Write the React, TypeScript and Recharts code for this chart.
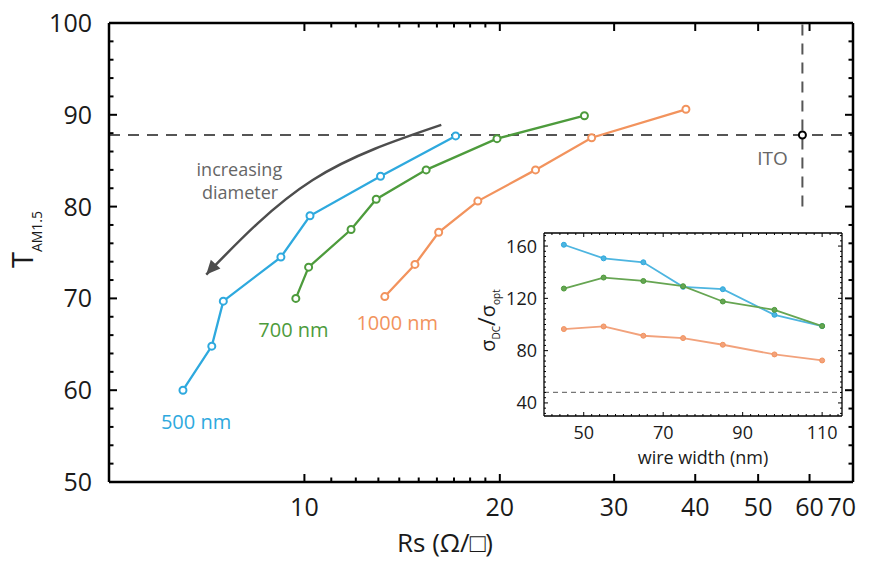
import React from "react";
import {
  LineChart,
  Line,
  XAxis,
  YAxis,
  ReferenceLine,
  ReferenceDot,
} from "recharts";

// main plot: sheet resistance (log axis) vs transmittance
const RS_500 = [6.5, 7.2, 7.5, 9.2, 10.2, 13.1, 17.1];
const T_500 = [60.0, 64.8, 69.7, 74.5, 79.0, 83.3, 87.7];
const RS_700 = [9.7, 10.15, 11.8, 12.9, 15.4, 19.8, 27.0];
const T_700 = [70.0, 73.4, 77.5, 80.8, 84.0, 87.4, 89.9];
const RS_1000 = [13.3, 14.8, 16.1, 18.5, 22.7, 27.7, 38.7];
const T_1000 = [70.2, 73.7, 77.2, 80.6, 84.0, 87.5, 90.6];

const ITO_RS = 58.5;
const ITO_T = 87.8;

const SERIES_NAMES = ["500 nm", "700 nm", "1000 nm"];
const LABEL_RS = [6.81, 9.62, 13.9];
const LABEL_T = [56.6, 66.6, 67.3];

// the "increasing diameter" arrow, in data units
const ARROW_RS = [16.25, 10.3, 7.06];
const ARROW_T = [88.9, 82.9, 72.6];

const X_MAJOR = [10, 20, 30, 40, 50, 60, 70];
const X_MINOR = [11, 12, 13, 14, 15, 16, 17, 18, 19];
const Y_MAJOR = [50, 60, 70, 80, 90, 100];
const Y_MINOR = [52, 54, 56, 58, 62, 64, 66, 68, 72, 74, 76, 78, 82, 84, 86, 88, 92, 94, 96, 98];

// inset: sigma_DC / sigma_opt vs wire width
const WIRE_WIDTH = [45, 55, 65, 75, 85, 98, 110];
const RATIO_500 = [161, 150.6, 147.6, 128.8, 127.0, 107.4, 98.8];
const RATIO_700 = [127.5, 135.9, 133.3, 129.3, 117.6, 111.2, 98.8];
const RATIO_1000 = [96.5, 98.5, 91.4, 89.6, 84.5, 77.1, 72.5];
const RATIO_ITO = 48;

const IX_MAJOR = [50, 70, 90, 110];
const IX_MINOR = [42, 44, 46, 48, 52, 54, 56, 58, 60, 62, 64, 66, 68, 72, 74, 76, 78, 80, 82, 84, 86, 88, 92, 94, 96, 98, 100, 102, 104, 106, 108, 112, 114];
const IY_MAJOR = [40, 80, 120, 160];
const IY_MINOR = [32, 36, 44, 48, 52, 56, 60, 64, 68, 72, 76, 84, 88, 92, 96, 100, 104, 108, 112, 116, 124, 128, 132, 136, 140, 144, 148, 152, 156, 164, 168];

const BLUE = "#2ea9de";
const GREEN = "#4d9b3c";
const ORANGE = "#f2935d";
const COLORS = [BLUE, GREEN, ORANGE];
const INSET_COLORS = ["#4db5e0", "#66a552", "#f2a27c"];

const FONT = '"Open Sans", sans-serif';

const zip = (xs: number[], ys: number[], xk: string, yk: string) =>
  xs.map((x, i) => ({ [xk]: x, [yk]: ys[i] }));

const main500 = zip(RS_500, T_500, "rs", "t");
const main700 = zip(RS_700, T_700, "rs", "t");
const main1000 = zip(RS_1000, T_1000, "rs", "t");
const mainSeries = [main500, main700, main1000];
const arrowData = zip(ARROW_RS, ARROW_T, "rs", "t");

const inset500 = zip(WIRE_WIDTH, RATIO_500, "w", "r");
const inset700 = zip(WIRE_WIDTH, RATIO_700, "w", "r");
const inset1000 = zip(WIRE_WIDTH, RATIO_1000, "w", "r");
const insetSeries = [inset500, inset700, inset1000];

type Side = "left" | "right" | "top" | "bottom";

// ticks point into the plot, long ones on majors; labels only on majors
function makeTick(
  side: Side,
  majors: number[],
  o: { major: number; minor: number; width: number; label: boolean; fontSize: number; gap: number; lastEnd?: boolean }
) {
  return function Tick(props: any) {
    const x = Number(props.x);
    const y = Number(props.y);
    const v = Number(props.payload.value);
    const isMajor = majors.some((m) => Math.abs(m - v) < 1e-6);
    const len = isMajor ? o.major : o.minor;
    let x2 = x;
    let y2 = y;
    if (side === "left") x2 = x + len;
    if (side === "right") x2 = x - len;
    if (side === "top") y2 = y + len;
    if (side === "bottom") y2 = y - len;
    let txt = null;
    if (o.label && isMajor) {
      if (side === "left") {
        txt = (
          <text x={x - o.gap} y={y} dy="0.36em" textAnchor="end" fontSize={o.fontSize} fontFamily={FONT} fill="#1a1a1a">
            {v}
          </text>
        );
      } else if (side === "bottom") {
        const isLast = o.lastEnd && v === majors[majors.length - 1];
        txt = (
          <text
            x={isLast ? x + 3 : x}
            y={y + o.gap}
            textAnchor={isLast ? "end" : "middle"}
            fontSize={o.fontSize}
            fontFamily={FONT}
            fill="#1a1a1a"
          >
            {v}
          </text>
        );
      }
    }
    return (
      <g>
        <line x1={x} y1={y} x2={x2} y2={y2} stroke="#000" strokeWidth={o.width} />
        {txt}
      </g>
    );
  };
}

const mainTick = { major: 8, minor: 4.5, width: 2, fontSize: 25 };
const MainLeftTick = makeTick("left", Y_MAJOR, { ...mainTick, label: true, gap: 17 });
const MainRightTick = makeTick("right", Y_MAJOR, { ...mainTick, label: false, gap: 0 });
const MainBottomTick = makeTick("bottom", X_MAJOR, { ...mainTick, label: true, gap: 34, lastEnd: true });
const MainTopTick = makeTick("top", X_MAJOR, { ...mainTick, label: false, gap: 0 });

const insetTick = { major: 4, minor: 2, width: 1, fontSize: 18 };
const InsetLeftTick = makeTick("left", IY_MAJOR, { ...insetTick, label: true, gap: 7 });
const InsetRightTick = makeTick("right", IY_MAJOR, { ...insetTick, label: false, gap: 0 });
const InsetBottomTick = makeTick("bottom", IX_MAJOR, { ...insetTick, label: true, gap: 22.5 });
const InsetTopTick = makeTick("top", IX_MAJOR, { ...insetTick, label: false, gap: 0 });

function MainYLabel(props: any) {
  const vb = props.viewBox || {};
  const cx = (vb.x ?? 0) + 25;
  const cy = (vb.y ?? 0) + (vb.height ?? 0) / 2 - 13;
  return (
    <text transform={`translate(${cx},${cy}) rotate(-90)`} textAnchor="middle" fontFamily={FONT} fill="#1a1a1a">
      <tspan fontSize={29}>T</tspan>
      <tspan fontSize={14} dy={9}>AM1.5</tspan>
    </text>
  );
}

function InsetYLabel(props: any) {
  const vb = props.viewBox || {};
  const cx = (vb.x ?? 0) + 25;
  const cy = (vb.y ?? 0) + (vb.height ?? 0) / 2 - 4;
  return (
    <text transform={`translate(${cx},${cy}) rotate(-90)`} textAnchor="middle" fontFamily={FONT} fill="#1a1a1a">
      <tspan fontSize={20}>σ</tspan>
      <tspan fontSize={10} dy={5}>DC</tspan>
      <tspan fontSize={24} dy={-5}>/</tspan>
      <tspan fontSize={20}>σ</tspan>
      <tspan fontSize={10} dy={5}>opt</tspan>
    </text>
  );
}

function ArrowDot(props: any) {
  const { cx, cy, index } = props;
  if (index !== ARROW_RS.length - 1) return <g key={`a${index}`} />;
  return (
    <polygon
      key={`a${index}`}
      points="0,0 -14,-6.5 -14,6.5"
      fill="#4d4d4d"
      transform={`translate(${cx},${cy}) rotate(132)`}
    />
  );
}

function Inset() {
  return (
    <LineChart width={390} height={255} margin={{ top: 12, right: 17, bottom: 0, left: 0 }}>
      <XAxis
        xAxisId="b"
        dataKey="w"
        type="number"
        domain={[40, 115]}
        allowDataOverflow
        ticks={[...IX_MAJOR, ...IX_MINOR]}
        interval={0}
        height={59}
        tickSize={0}
        tickMargin={0}
        tickLine={false}
        tick={InsetBottomTick}
        axisLine={{ stroke: "#000", strokeWidth: 1.3 }}
        label={{ value: "wire width (nm)", position: "insideBottom", offset: 11, dx: 10, fontSize: 18, fontFamily: FONT, fill: "#1a1a1a" }}
      />
      <XAxis
        xAxisId="t"
        orientation="top"
        dataKey="w"
        type="number"
        domain={[40, 115]}
        allowDataOverflow
        ticks={[...IX_MAJOR, ...IX_MINOR]}
        interval={0}
        height={1}
        tickSize={0}
        tickMargin={0}
        tickLine={false}
        tick={InsetTopTick}
        axisLine={{ stroke: "#000", strokeWidth: 1.3 }}
      />
      <YAxis
        yAxisId="l"
        type="number"
        domain={[30, 170]}
        allowDataOverflow
        ticks={[...IY_MAJOR, ...IY_MINOR]}
        interval={0}
        width={74}
        tickSize={0}
        tickMargin={0}
        tickLine={false}
        tick={InsetLeftTick}
        axisLine={{ stroke: "#000", strokeWidth: 1.3 }}
        label={<InsetYLabel />}
      />
      <YAxis
        yAxisId="r"
        orientation="right"
        type="number"
        domain={[30, 170]}
        allowDataOverflow
        ticks={[...IY_MAJOR, ...IY_MINOR]}
        interval={0}
        width={1}
        tickSize={0}
        tickMargin={0}
        tickLine={false}
        tick={InsetRightTick}
        axisLine={{ stroke: "#000", strokeWidth: 1.3 }}
      />
      <ReferenceLine xAxisId="b" yAxisId="l" y={RATIO_ITO} stroke="#777" strokeWidth={1.3} strokeDasharray="5 4" />
      <Line xAxisId="t" yAxisId="r" data={inset500} dataKey="r" stroke="none" dot={false} activeDot={false} isAnimationActive={false} />
      {insetSeries.map((d, i) => (
        <Line
          key={SERIES_NAMES[i]}
          xAxisId="b"
          yAxisId="l"
          data={d}
          dataKey="r"
          stroke={INSET_COLORS[i]}
          strokeWidth={1.8}
          dot={{ r: 2.5, fill: INSET_COLORS[i], stroke: COLORS[i], strokeWidth: 1 }}
          isAnimationActive={false}
        />
      ))}
    </LineChart>
  );
}

export default function App() {
  // pulled over the body margin so the big labels have room at the page edge
  return (
    <div style={{ position: "relative", width: 872, height: 572, margin: "-8px 0 0 -8px", fontFamily: FONT }}>
      <LineChart width={872} height={572} margin={{ top: 22, right: 18, bottom: 4, left: 8 }}>
        <XAxis
          xAxisId="b"
          dataKey="rs"
          type="number"
          scale="log"
          domain={[5, 70]}
          allowDataOverflow
          ticks={[...X_MAJOR, ...X_MINOR]}
          interval={0}
          height={86}
          tickSize={0}
          tickMargin={0}
          tickLine={false}
          tick={MainBottomTick}
          axisLine={{ stroke: "#000", strokeWidth: 2.5 }}
          label={{ value: "Rs (Ω/□)", position: "insideBottom", offset: 16, dx: -36, fontSize: 26, fontFamily: FONT, fill: "#1a1a1a" }}
        />
        <XAxis
          xAxisId="t"
          orientation="top"
          dataKey="rs"
          type="number"
          scale="log"
          domain={[5, 70]}
          allowDataOverflow
          ticks={[...X_MAJOR, ...X_MINOR]}
          interval={0}
          height={1}
          tickSize={0}
          tickMargin={0}
          tickLine={false}
          tick={MainTopTick}
          axisLine={{ stroke: "#000", strokeWidth: 2.5 }}
        />
        <YAxis
          yAxisId="l"
          type="number"
          domain={[50, 100]}
          allowDataOverflow
          ticks={[...Y_MAJOR, ...Y_MINOR]}
          interval={0}
          width={101}
          tickSize={0}
          tickMargin={0}
          tickLine={false}
          tick={MainLeftTick}
          axisLine={{ stroke: "#000", strokeWidth: 2.5 }}
          label={<MainYLabel />}
        />
        <YAxis
          yAxisId="r"
          orientation="right"
          type="number"
          domain={[50, 100]}
          allowDataOverflow
          ticks={[...Y_MAJOR, ...Y_MINOR]}
          interval={0}
          width={1}
          tickSize={0}
          tickMargin={0}
          tickLine={false}
          tick={MainRightTick}
          axisLine={{ stroke: "#000", strokeWidth: 2.5 }}
        />
        <ReferenceLine xAxisId="b" yAxisId="l" y={ITO_T} stroke="#555" strokeWidth={2} strokeDasharray="11 8" />
        <ReferenceLine
          xAxisId="b"
          yAxisId="l"
          segment={[
            { x: ITO_RS, y: 80 },
            { x: ITO_RS, y: 100 },
          ]}
          stroke="#555"
          strokeWidth={2}
          strokeDasharray="11 8"
        />
        <Line xAxisId="t" yAxisId="r" data={main500} dataKey="t" stroke="none" dot={false} activeDot={false} isAnimationActive={false} />
        <Line
          xAxisId="b"
          yAxisId="l"
          data={arrowData}
          dataKey="t"
          type="natural"
          stroke="#4d4d4d"
          strokeWidth={2.5}
          dot={ArrowDot}
          activeDot={false}
          isAnimationActive={false}
        />
        {mainSeries.map((d, i) => (
          <Line
            key={SERIES_NAMES[i]}
            xAxisId="b"
            yAxisId="l"
            data={d}
            dataKey="t"
            stroke={COLORS[i]}
            strokeWidth={2.3}
            dot={{ r: 3.5, fill: "#fff", stroke: COLORS[i], strokeWidth: 2 }}
            isAnimationActive={false}
          />
        ))}
        <ReferenceDot xAxisId="b" yAxisId="l" x={ITO_RS} y={ITO_T} r={3.5} fill="#fff" stroke="#000" strokeWidth={2} />
        {SERIES_NAMES.map((name, i) => (
          <ReferenceDot
            key={name}
            xAxisId="b"
            yAxisId="l"
            x={LABEL_RS[i]}
            y={LABEL_T[i]}
            r={1}
            fill="none"
            stroke="none"
            label={{ value: name, position: "center", fill: COLORS[i], fontSize: 20, fontFamily: FONT }}
          />
        ))}
        <ReferenceDot
          xAxisId="b"
          yAxisId="l"
          x={52.6}
          y={85.3}
          r={1}
          fill="none"
          stroke="none"
          label={{ value: "ITO", position: "center", fill: "#666", fontSize: 19, fontFamily: FONT }}
        />
        <ReferenceDot
          xAxisId="b"
          yAxisId="l"
          x={7.94}
          y={84.0}
          r={1}
          fill="none"
          stroke="none"
          label={{ value: "increasing", position: "center", fill: "#666", fontSize: 18, fontFamily: FONT }}
        />
        <ReferenceDot
          xAxisId="b"
          yAxisId="l"
          x={7.96}
          y={81.5}
          r={1}
          fill="none"
          stroke="none"
          label={{ value: "diameter", position: "center", fill: "#666", fontSize: 18, fontFamily: FONT }}
        />
      </LineChart>
      <div style={{ position: "absolute", left: 470, top: 220 }}>
        <Inset />
      </div>
    </div>
  );
}
